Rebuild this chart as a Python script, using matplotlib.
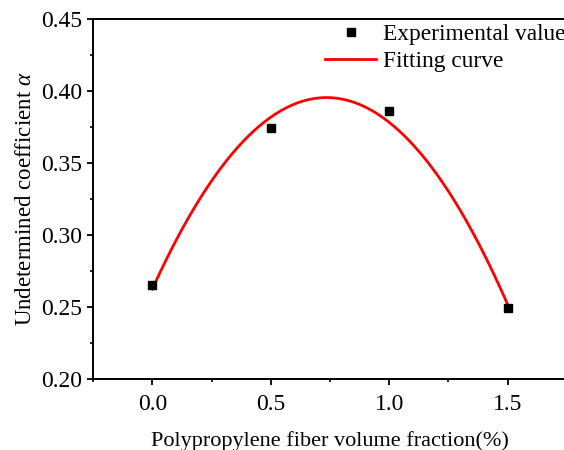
import numpy as np
import matplotlib
matplotlib.use("Agg")
import matplotlib.pyplot as plt
from matplotlib.ticker import MultipleLocator, FormatStrFormatter

plt.rcParams['font.family'] = ['Liberation Serif', 'DejaVu Serif']
plt.rcParams['mathtext.fontset'] = 'custom'
plt.rcParams['mathtext.it'] = 'Liberation Serif:italic'
plt.rcParams['mathtext.rm'] = 'Liberation Serif'

# experimental points
fiber_fraction = [0.0, 0.5, 1.0, 1.5]
alpha_value = [0.265, 0.374, 0.386, 0.249]

# quadratic fitting curve
coef = np.polyfit(fiber_fraction, alpha_value, 2)
x_fit = np.linspace(fiber_fraction[0], fiber_fraction[-1], 200)
y_fit = np.polyval(coef, x_fit)

fig = plt.figure(figsize=(5.64, 4.5), dpi=100)
ax = fig.add_axes([0.1649, 0.1578, 0.8404, 0.8])

ax.plot(x_fit, y_fit, color='red', lw=2.0, label='Fitting curve', zorder=2)
ax.plot(fiber_fraction, alpha_value, 's', color='black', ms=5.5,
        label='Experimental value', zorder=3)

ax.set_xlim(-0.25, 1.75)
ax.set_ylim(0.20, 0.45)
ax.xaxis.set_major_locator(MultipleLocator(0.5))
ax.xaxis.set_minor_locator(MultipleLocator(0.25))
ax.yaxis.set_major_locator(MultipleLocator(0.05))
ax.yaxis.set_minor_locator(MultipleLocator(0.025))
ax.xaxis.set_major_formatter(FormatStrFormatter('%.1f'))
ax.yaxis.set_major_formatter(FormatStrFormatter('%.2f'))

ax.spines['right'].set_visible(False)
for s in ['left', 'top', 'bottom']:
    ax.spines[s].set_linewidth(1.4)
ax.tick_params(which='major', direction='out', length=4, width=1.3,
               labelsize=17, pad=3.5, top=False, right=False)
ax.tick_params(axis='x', which='major', pad=6.5)
ax.tick_params(which='minor', direction='out', length=2.5, width=1.2,
               top=False, right=False)

ax.set_xlabel('Polypropylene fiber volume fraction(%)', fontsize=16, labelpad=12)
ax.set_ylabel(r'Undetermined coefficient $\alpha$', fontsize=16.5, labelpad=4)

handles, labels = ax.get_legend_handles_labels()
leg = ax.legend(handles[::-1], labels[::-1], loc='upper left',
                bbox_to_anchor=(0.576, 0.948), bbox_transform=fig.transFigure,
                frameon=False, fontsize=16.8, borderpad=0, borderaxespad=0,
                handlelength=2.2, handletextpad=0.28, labelspacing=0.25,
                numpoints=1)

fig.savefig('out.png', dpi=100)
